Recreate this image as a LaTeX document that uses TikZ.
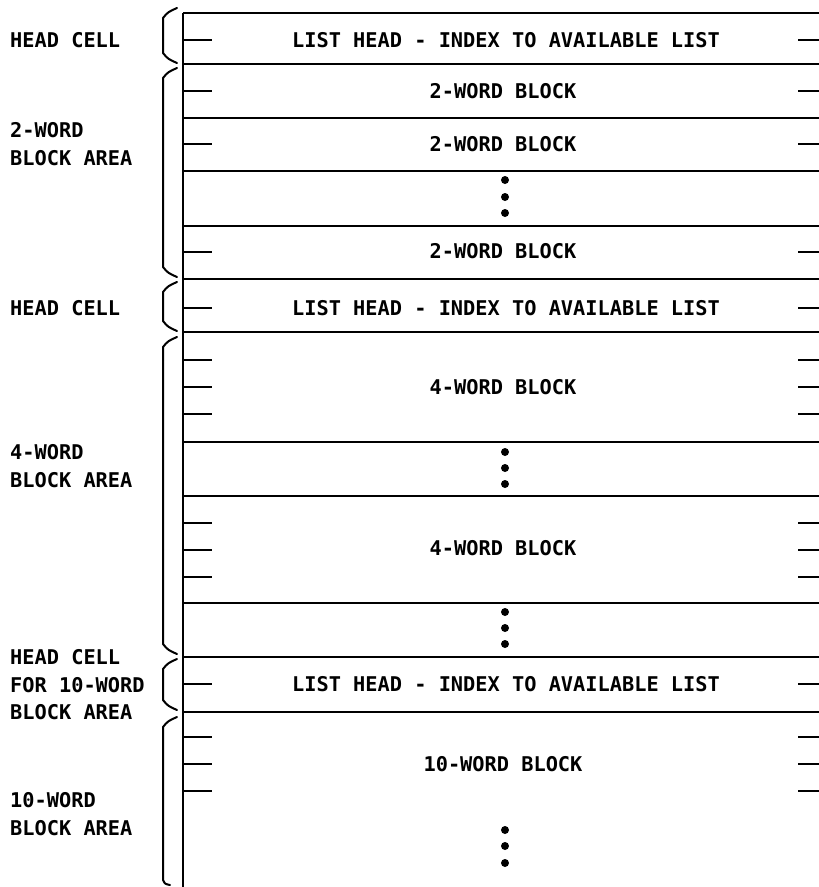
\documentclass[tikz,border=0pt]{standalone}
\usepackage{fontspec}
\newfontfamily\plotfont{DejaVu Sans Mono}
\newcommand\mybrace[2]{\draw[bracestyle] (177,#1) .. controls (168,#1+4) .. (163,#1+10) -- (163,#2-10) .. controls (168,#2-4) .. (177,#2);}
\begin{document}
\begin{tikzpicture}[x=1pt,y=-1pt,
  rule/.style={line width=2pt},
  tickline/.style={line width=2pt},
  bracestyle/.style={line width=2pt, line join=round, line cap=round},
  lbl/.style={font=\plotfont\bfseries\fontsize{20.3}{27.5}\selectfont, inner sep=0pt, anchor=west, align=left},
  cell/.style={font=\plotfont\bfseries\fontsize{20.3}{27.5}\selectfont, inner sep=0pt},
  dotm/.style={circle, fill, inner sep=0pt, minimum size=8pt}]
\useasboundingbox (0,0) rectangle (819,887);
% frame
\draw[rule] (183,13) -- (183,887);
\foreach \y in {13,64,118,171,226,279,332,442,496,603,657,712}
  \draw[rule] (183,\y) -- (819,\y);
% ticks
\foreach \y in {40,91,144,252,308,360,387,414,523,550,577,684,737,764,791}{
  \draw[tickline] (183,\y) -- (212,\y);
  \draw[tickline] (798,\y) -- (819,\y);
}
% cell texts
\node[cell] (h1) at (506,40) {LIST HEAD - INDEX TO AVAILABLE LIST};
\node[cell] (w21) at (503,91) {2-WORD BLOCK};
\node[cell] (w22) at (503,144) {2-WORD BLOCK};
\node[cell] (w23) at (503,251) {2-WORD BLOCK};
\node[cell] (h2) at (506,308) {LIST HEAD - INDEX TO AVAILABLE LIST};
\node[cell] (w41) at (503,387) {4-WORD BLOCK};
\node[cell] (w42) at (503,548) {4-WORD BLOCK};
\node[cell] (h3) at (506,684) {LIST HEAD - INDEX TO AVAILABLE LIST};
\node[cell] (w10) at (503,764) {10-WORD BLOCK};
% dots
\foreach \y [count=\i] in {180,197,213,452,468,484,612,628,644,830,846,863}
  \node[dotm] (d\i) at (505,\y) {};
% left labels
\node[lbl] (l1) at (10,40) {HEAD CELL};
\node[lbl] (l2) at (10,144) {2-WORD\\BLOCK AREA};
\node[lbl] (l3) at (10,308) {HEAD CELL};
\node[lbl] (l4) at (10,466) {4-WORD\\BLOCK AREA};
\node[lbl] (l5) at (10,685) {HEAD CELL\\FOR 10-WORD\\BLOCK AREA};
\node[lbl] (l6) at (10,814) {10-WORD\\BLOCK AREA};
% braces
\mybrace{8}{63}
\mybrace{68}{277}
\mybrace{282}{331}
\mybrace{337}{654}
\mybrace{659}{710}
\draw[bracestyle] (177,717) .. controls (168,721) .. (163,727) -- (163,880) .. controls (165,884) .. (170,885);
\end{tikzpicture}
\end{document}
